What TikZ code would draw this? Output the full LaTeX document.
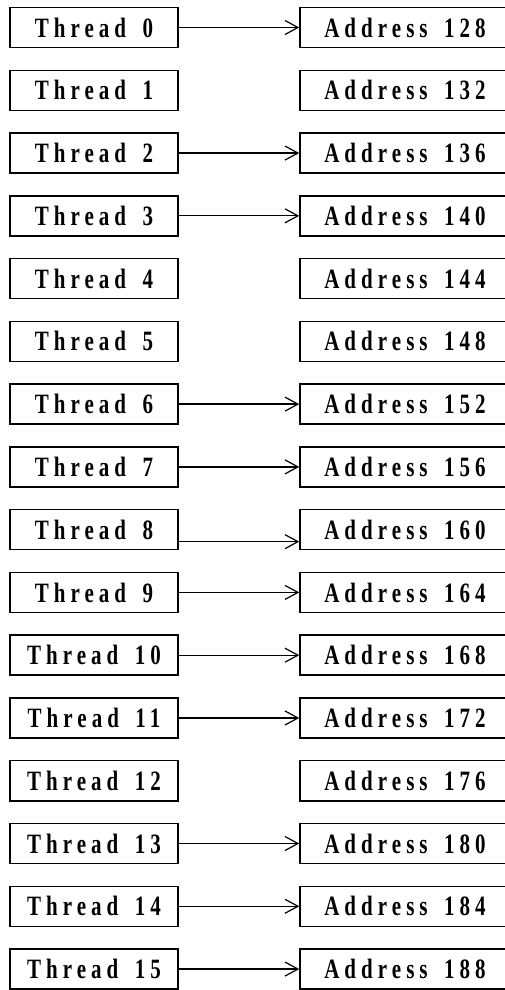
\documentclass[tikz,border=0pt]{standalone}
\usepackage{fontspec}
\setmainfont{Liberation Serif}[FakeStretch=0.75,LetterSpace=18,WordSpace=1.6]
\usetikzlibrary{arrows.meta}
\begin{document}
\begin{tikzpicture}[x=1pt,y=1pt,
  box/.style={draw,line width=1.5pt,minimum height=40pt,inner sep=0pt,font=\fontsize{28}{30}\selectfont\bfseries},
  tbox/.style={box,minimum width=168pt},
  abox/.style={box,minimum width=210pt},
  link/.style={line width=1.3pt,-{Straight Barb[length=13pt,width=14pt,line width=1.2pt]}}]
\useasboundingbox (0,0) rectangle (505,-990);
\clip (0,0) rectangle (505,-990);
\foreach \i [evaluate=\i as \addr using int(128+4*\i)] in {0,...,15}{
  \node[tbox] (t\i) at (94,{-27.5-62.77*\i}) {Thread \i};
  \node[abox] (a\i) at (405,{-27.5-62.77*\i}) {Address \addr};
}
\foreach \i in {0,2,3,6,7,9,10,11,13,14,15}{
  \draw[link] (t\i) -- (a\i);
}
\draw[link] ([yshift=-12pt]t8.east) -- ([yshift=-12pt]a8.west);
\end{tikzpicture}
\end{document}
